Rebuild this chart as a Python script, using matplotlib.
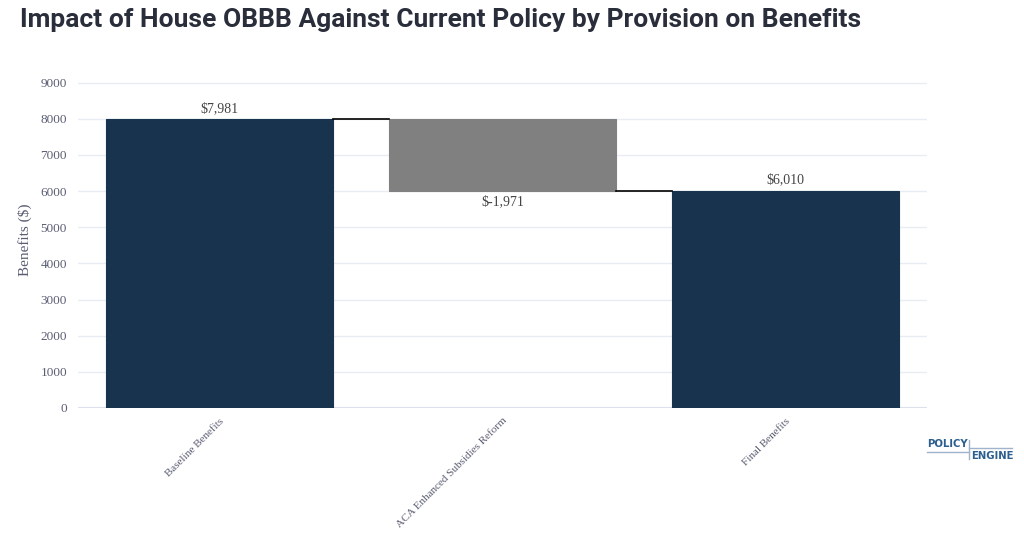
import matplotlib
matplotlib.use("Agg")
from matplotlib import pyplot as plt
from matplotlib.lines import Line2D

# data
categories = ["Baseline Benefits", "ACA Enhanced Subsidies Reform", "Final Benefits"]
baseline = 7981
changes = [-1971]
final = 6010
labels = ["$7,981", "$-1,971", "$6,010"]

navy = "#17334e"
grey = "#808080"
tick_color = "#5b5e73"

W, H = 1024, 545
fig = plt.figure(figsize=(10.24, 5.45), dpi=100)
ax = fig.add_axes([0.0762, 0.2514, 0.829, 0.617])

bottoms = [0, baseline + changes[0], 0]
heights = [baseline, -changes[0], final]
colors = [navy, grey, navy]
xs = list(range(len(categories)))
ax.bar(xs, heights, bottom=bottoms, width=0.8, color=colors,
       edgecolor=[navy, grey, navy], linewidth=0.8, zorder=3)

# connectors
tops = [baseline, baseline + changes[0]]
for i, t in enumerate(tops):
    ax.plot([i + 0.4, i + 0.6], [t, t], color="black", lw=1.2, zorder=4)

font = "Liberation Serif"
ax.text(0, baseline + 120, labels[0], ha="center", va="bottom",
        fontsize=10, family=font, color="#444444")
ax.text(1, baseline + changes[0] - 120, labels[1], ha="center", va="top",
        fontsize=10, family=font, color="#444444")
ax.text(2, final + 120, labels[2], ha="center", va="bottom",
        fontsize=10, family=font, color="#444444")

ax.set_xlim(-0.5, 2.5)
ax.set_ylim(0, 9300)
ax.set_yticks(range(0, 9001, 1000))
ax.set_yticklabels([str(v) for v in range(0, 9001, 1000)], family=font,
                   fontsize=9.5, color=tick_color)
ax.set_xticks(xs)
ax.set_xticklabels(categories, rotation=45, ha="right", rotation_mode="anchor",
                   family=font, fontsize=8, color=tick_color)
ax.tick_params(axis="y", length=0, pad=8)
ax.tick_params(axis="x", length=0, pad=6)
ax.grid(axis="y", color="#e9ecf3", lw=1, zorder=0)
ax.axhline(0, color="#dde1ec", lw=1.5, zorder=2)
for s in ax.spines.values():
    s.set_visible(False)
ax.set_ylabel("Benefits ($)", family=font, fontsize=11, color=tick_color)
ax.yaxis.set_label_coords(-46 / (0.829 * W), 0.5)

fig.text(20 / W, 1 - 20 / H, "Impact of House OBBB Against Current Policy by Provision on Benefits",
         family="Roboto", fontweight="bold", fontsize=19, color="#2a2e3b", va="center")

# logo
logo_c = "#2c5f8f"
fig.text(927 / W, 1 - 444 / H, "POLICY", family="DejaVu Sans", fontweight="bold",
         fontsize=7.3, color=logo_c, va="center")
fig.text(971 / W, 1 - 456 / H, "ENGINE", family="DejaVu Sans", fontweight="bold",
         fontsize=7.3, color=logo_c, va="center")
lc = "#9fb4cc"
def px_line(x0, y0, x1, y1):
    fig.add_artist(Line2D([x0 / W, x1 / W], [1 - y0 / H, 1 - y1 / H], color=lc, lw=1,
                          transform=fig.transFigure))
px_line(927, 452, 969, 452)
px_line(969, 440, 969, 459)
px_line(969, 448, 1012, 448)

fig.savefig("out.png", dpi=100, facecolor="white")
